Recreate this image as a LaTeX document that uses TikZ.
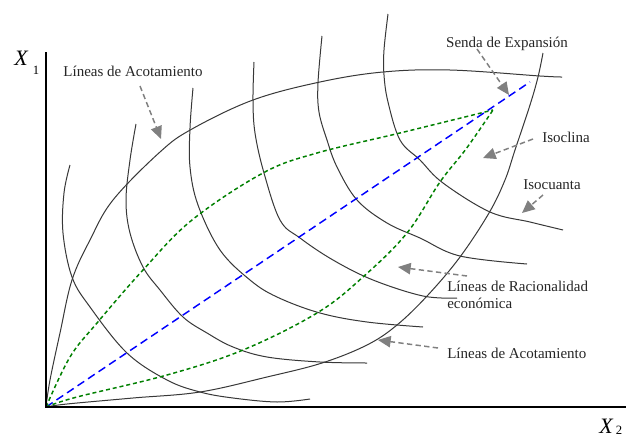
\documentclass[tikz,border=0pt]{standalone}
\usepackage{fontspec}
\setmainfont{Liberation Serif}
\usetikzlibrary{arrows.meta}
\begin{document}
\begin{tikzpicture}[x=0.75pt,y=-0.75pt,
  isoq/.style={draw=black!78, line width=0.75pt},
  grn/.style={draw=green!50!black, dash pattern=on 3pt off 2.2pt, line width=1.1pt},
  blu/.style={draw=blue, dash pattern=on 6pt off 3.5pt, line width=1.1pt},
  callout/.style={draw=gray, line width=1.1pt, dash pattern=on 4pt off 2.5pt, -{Triangle[length=9.5pt,width=8.5pt]}},
  lbl/.style={font=\fontsize{11.25}{12.75}\selectfont, inner sep=0pt, text=black!85},
  axis/.style={draw=black, line width=1.6pt}]
\useasboundingbox (0,0) rectangle (626,436);
\fill[white] (0,0) rectangle (626,436);

% isoquants
\draw[isoq] plot[smooth, tension=0.6] coordinates {(70,165) (64,193) (63,233) (72,277) (90,307) (127,353) (167,380) (200,392) (233,398) (277,402) (310,399)};
\draw[isoq] plot[smooth, tension=0.6] coordinates {(136,124) (130,160) (126,200) (130,233) (143,267) (160,290) (183,317) (207,333) (233,347) (267,357) (320,362) (367,363)};
\draw[isoq] plot[smooth, tension=0.6] coordinates {(193,88) (190,128) (190,167) (198,205) (220,250) (250,280) (277,297) (320,313) (367,322) (423,327)};
\draw[isoq] plot[smooth, tension=0.6] coordinates {(254,62) (253,100) (255,133) (264,173) (280,220) (300,238) (333,260) (373,280) (423,296) (457,298)};
\draw[isoq] plot[smooth, tension=0.6] coordinates {(322,36) (318,83) (319,112) (327,140) (337,167) (357,200) (387,223) (420,238) (460,256) (527,264)};
\draw[isoq] plot[smooth, tension=0.6] coordinates {(388,14) (384,50) (384,75) (388,102) (400,140) (420,160) (443,183) (490,212) (530,222) (563,230)};

% ridge lines
\draw[isoq] plot[smooth, tension=0.6] coordinates {(46,407) (50,380) (60,333) (72,280) (90,240) (113,200) (160,152) (192,129) (253,100) (320,82) (383,72) (450,70) (540,76) (562,77)};
\draw[isoq] plot[smooth, tension=0.6] coordinates {(46,407) (67,404) (133,398) (200,392) (267,377) (322,363) (367,345) (397,325) (428,295) (460,257) (489,213) (505,180) (515,150) (530,105) (538,77) (543,53)};

% expansion path and isoclines
\coordinate (O) at (46,407);
\coordinate (E) at (530,82);
\draw[blu] (O) -- (E);
\draw[grn] plot[smooth, tension=0.6] coordinates {(46,407) (70,357) (97,323) (143,270) (192,220) (263,173) (317,153) (400,133) (493,110)};
\draw[grn] plot[smooth, tension=0.6] coordinates {(46,407) (77,397) (167,375) (243,350) (317,313) (363,277) (407,233) (440,182) (466,149) (493,110)};

% axes
\draw[axis] (46,52) -- (46,407) -- (626,407);
\node[inner sep=0pt, font=\fontsize{16.5}{16.5}\selectfont\itshape] (x1) at (21,58) {X};
\node[inner sep=0pt, font=\fontsize{9.5}{9.5}\selectfont] (x1s) at (36,70) {1};
\node[inner sep=0pt, font=\fontsize{16.5}{16.5}\selectfont\itshape] (x2) at (606,426) {X};
\node[inner sep=0pt, font=\fontsize{9.5}{9.5}\selectfont] (x2s) at (619,430) {2};

% labels
\node[lbl] (l1) at (133,71) {Líneas de Acotamiento};
\node[lbl] (l2) at (507,44) {Senda de Expansión};
\node[lbl, anchor=west] (l3) at (542,137) {Isoclina};
\node[lbl, anchor=west] (l4) at (523,185) {Isocuanta};
\node[lbl, anchor=north west, align=left] (l5) at (447,281) {Líneas de Racionalidad\\económica};
\node[lbl, anchor=west] (l6) at (447,353) {Líneas de Acotamiento};

% callout arrows
\coordinate (a1s) at (140,86);  \coordinate (a1e) at (161,139);
\coordinate (a2s) at (477,49);  \coordinate (a2e) at (509,95);
\coordinate (a3s) at (533,139); \coordinate (a3e) at (483,158);
\coordinate (a4s) at (543,195); \coordinate (a4e) at (522,213);
\coordinate (a5s) at (467,276); \coordinate (a5e) at (398,267);
\coordinate (a6s) at (438,348); \coordinate (a6e) at (378,340);
\draw[callout] (a1s) -- (a1e);
\draw[callout] (a2s) -- (a2e);
\draw[callout] (a3s) -- (a3e);
\draw[callout] (a4s) -- (a4e);
\draw[callout] (a5s) -- (a5e);
\draw[callout] (a6s) -- (a6e);
\end{tikzpicture}
\end{document}
